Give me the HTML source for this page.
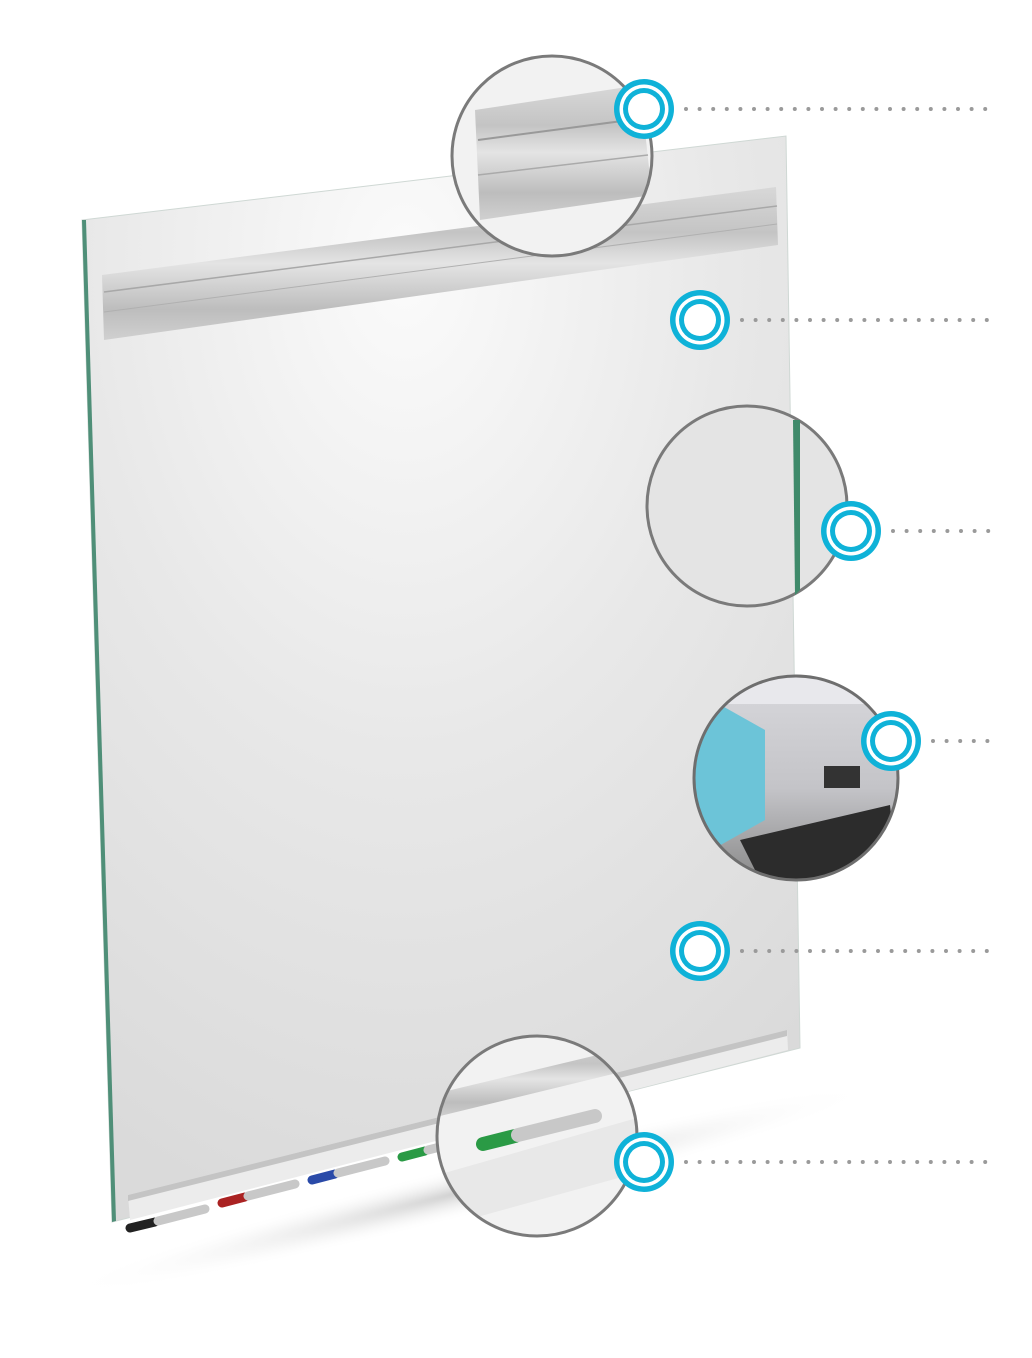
<!DOCTYPE html>
<html><head><style>html,body{margin:0;padding:0;background:#fff;}svg{display:block}</style></head>
<body>
<svg width="1032" height="1358" viewBox="0 0 1032 1358" xmlns="http://www.w3.org/2000/svg">
<defs>
<radialGradient id="glass" cx="0.45" cy="0.12" r="0.9">
<stop offset="0" stop-color="#fbfbfb"/><stop offset="0.5" stop-color="#e8e8e8"/><stop offset="1" stop-color="#dadada"/>
</radialGradient>
<linearGradient id="rail" x1="0" y1="0" x2="0" y2="1">
<stop offset="0" stop-color="#d8d8d8"/><stop offset="0.3" stop-color="#c4c4c4"/><stop offset="0.5" stop-color="#e4e4e4"/><stop offset="0.8" stop-color="#bdbdbd"/><stop offset="1" stop-color="#d0d0d0"/>
</linearGradient>
<radialGradient id="shadow" cx="0.5" cy="0.5" r="0.5">
<stop offset="0" stop-color="#bbb" stop-opacity="0.7"/><stop offset="1" stop-color="#fff" stop-opacity="0"/>
</radialGradient>
<linearGradient id="room" x1="0" y1="0" x2="0" y2="1">
<stop offset="0" stop-color="#d8d8dc"/><stop offset="0.55" stop-color="#c4c4c8"/><stop offset="1" stop-color="#8a8a8a"/>
</linearGradient>
<clipPath id="c1"><circle cx="552" cy="156" r="100"/></clipPath>
<clipPath id="c4"><circle cx="796" cy="778" r="102"/></clipPath>
<clipPath id="c5"><circle cx="537" cy="1136" r="100"/></clipPath>
<g id="hs">
<circle r="30" fill="#0fb2d8"/><circle r="24.5" fill="#fff"/><circle r="21" fill="#0fb2d8"/><circle r="16" fill="#fff"/>
</g>
</defs>

<ellipse cx="470" cy="1190" rx="420" ry="26" fill="url(#shadow)" transform="rotate(-14 470 1190)"/>

<polygon points="82,220 786,136 800,1048 112,1222" fill="url(#glass)" stroke="#cfd8d4" stroke-width="1"/>
<polygon points="82,220 86,220 116,1221 112,1222" fill="#4f8f78"/>

<polygon points="102,275 776,187 778,245 104,340" fill="url(#rail)"/>
<line x1="104" y1="292" x2="777" y2="206" stroke="#a8a8a8" stroke-width="1.5"/>
<line x1="104" y1="312" x2="777" y2="224" stroke="#b0b0b0" stroke-width="1"/>

<polygon points="128,1195 787,1030 788,1050 130,1220" fill="#ececec"/>
<polygon points="128,1195 787,1030 787,1036 128,1201" fill="#c4c4c4"/>
<g stroke-linecap="round">
<line x1="130" y1="1228" x2="155" y2="1222" stroke="#222" stroke-width="9"/>
<line x1="158" y1="1221" x2="205" y2="1209" stroke="#c8c8c8" stroke-width="9"/>
<line x1="222" y1="1203" x2="245" y2="1197" stroke="#a22" stroke-width="9"/>
<line x1="248" y1="1196" x2="295" y2="1184" stroke="#c8c8c8" stroke-width="9"/>
<line x1="312" y1="1180" x2="335" y2="1174" stroke="#2a4aa8" stroke-width="9"/>
<line x1="338" y1="1173" x2="385" y2="1161" stroke="#c8c8c8" stroke-width="9"/>
<line x1="402" y1="1157" x2="425" y2="1151" stroke="#2a9a45" stroke-width="9"/>
<line x1="428" y1="1150" x2="460" y2="1142" stroke="#c8c8c8" stroke-width="9"/>
</g>

<circle cx="552" cy="156" r="100" fill="#f2f2f2"/>
<g clip-path="url(#c1)">
<polygon points="475,110 640,85 652,195 480,220" fill="url(#rail)"/>
<line x1="478" y1="140" x2="645" y2="118" stroke="#999" stroke-width="2"/>
<line x1="478" y1="175" x2="648" y2="155" stroke="#aaa" stroke-width="1.5"/>
</g>
<circle cx="552" cy="156" r="100" fill="none" stroke="#7a7a7a" stroke-width="3"/>

<circle cx="747" cy="506" r="100" fill="#e4e4e4" stroke="#7a7a7a" stroke-width="3"/>
<polygon points="793,420 800,420 800,590 795,595" fill="#3f8a6a"/>

<g clip-path="url(#c4)">
<rect x="694" y="676" width="204" height="204" fill="url(#room)"/>
<polygon points="694,690 765,730 765,820 694,860" fill="#6cc4d8"/>
<rect x="824" y="766" width="36" height="22" fill="#333"/>
<polygon points="740,840 890,805 898,880 760,880" fill="#2c2c2c"/>
<rect x="694" y="676" width="204" height="28" fill="#e8e8ec"/>
</g>
<circle cx="796" cy="778" r="102" fill="none" stroke="#6e6e6e" stroke-width="3"/>

<circle cx="537" cy="1136" r="100" fill="#f2f2f2"/>
<g clip-path="url(#c5)">
<polygon points="430,1095 660,1040 662,1062 432,1118" fill="url(#rail)"/>
<polygon points="420,1180 700,1100 720,1150 430,1230" fill="#e8e8e8"/>
<g stroke-linecap="round">
<line x1="483" y1="1144" x2="515" y2="1136" stroke="#2a9a45" stroke-width="14"/>
<line x1="518" y1="1135" x2="595" y2="1116" stroke="#c8c8c8" stroke-width="14"/>
</g>
</g>
<circle cx="537" cy="1136" r="100" fill="none" stroke="#7a7a7a" stroke-width="3"/>

<g stroke="#9a9a9a" stroke-width="4" stroke-linecap="round" stroke-dasharray="0 13.6">
<line x1="686" y1="109" x2="990" y2="109"/>
<line x1="742" y1="320" x2="990" y2="320"/>
<line x1="893" y1="531" x2="990" y2="531"/>
<line x1="933" y1="741" x2="990" y2="741"/>
<line x1="742" y1="951" x2="990" y2="951"/>
<line x1="686" y1="1162" x2="990" y2="1162"/>
</g>

<use href="#hs" x="644" y="109"/>
<use href="#hs" x="700" y="320"/>
<use href="#hs" x="851" y="531"/>
<use href="#hs" x="891" y="741"/>
<use href="#hs" x="700" y="951"/>
<use href="#hs" x="644" y="1162"/>
</svg>
</body></html>
